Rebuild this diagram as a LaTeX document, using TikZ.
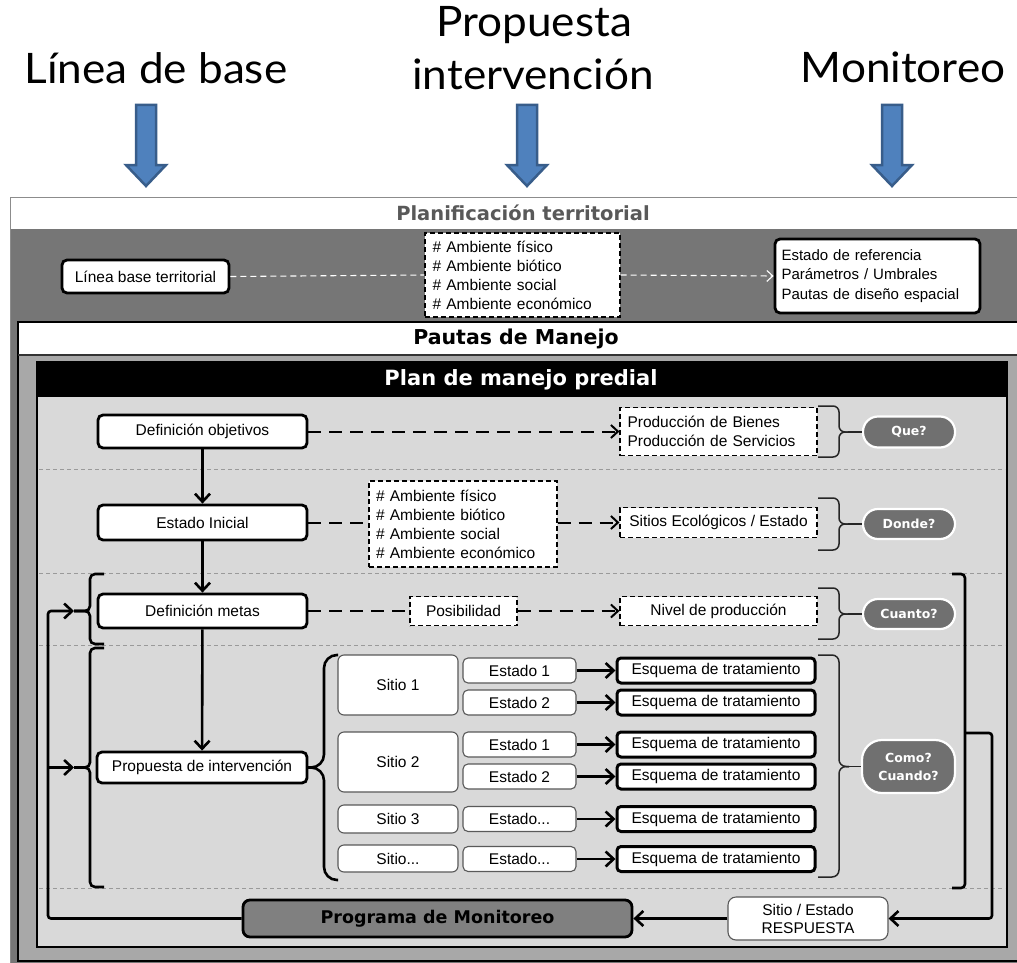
\documentclass[tikz,border=0pt]{standalone}
\usepackage{fontspec}
\setmainfont{Liberation Sans}
\newfontfamily\hdf{DejaVu Sans}
\newfontfamily\ttlf{Lato}
\usetikzlibrary{arrows.meta}
\definecolor{dkg}{HTML}{767676}
\definecolor{mdg}{HTML}{A8A8A8}
\definecolor{ltg}{HTML}{D9D9D9}
\definecolor{pillc}{HTML}{707070}
\definecolor{progc}{HTML}{808080}
\definecolor{blu}{HTML}{4F81BD}
\definecolor{blud}{HTML}{385D8A}
\definecolor{sepc}{HTML}{9A9A9A}
\tikzset{
  txt/.style={font=\fontsize{15.5}{19}\selectfont},
  box/.style={draw=black, line width=2.8pt, rounded corners=5pt, fill=white, inner sep=0pt, txt, align=center},
  qbox/.style={box, line width=3pt, rounded corners=4pt},
  dbox/.style={draw=black, line width=1.2pt, dash pattern=on 5pt off 3pt, fill=white, inner sep=0pt, txt},
  gbox/.style={draw=black!65, line width=1.1pt, rounded corners=6pt, fill=white, inner sep=0pt, txt, align=center},
  pillst/.style={fill=pillc, draw=white, line width=2.2pt, rounded corners=15pt, text=white, inner sep=0pt, align=center, font=\hdf\bfseries\fontsize{12.5}{18}\selectfont},
  arr/.style={line width=2.6pt, -{Straight Barb[length=8pt,width=15pt]}},
  dsh/.style={line width=2pt, dash pattern=on 13pt off 8pt},
  dsharr/.style={dsh, -{Straight Barb[length=7pt,width=13pt]}},
  wdsh/.style={draw=white, line width=1.1pt, dash pattern=on 6pt off 4pt},
  brc/.style={line width=1.5pt, draw=black!85},
  bbrc/.style={line width=2.6pt, draw=black},
  sep/.style={draw=sepc, line width=0.8pt, dash pattern=on 4pt off 3pt},
  bigttl/.style={font=\ttlf\fontsize{42}{42}\selectfont, anchor=base, inner sep=0pt, xscale=1.05},
  bluarr/.style={fill=blu, draw=blud, line width=2.5pt}
}
\begin{document}
\begin{tikzpicture}[x=1pt,y=-1pt]
\useasboundingbox (0,0) rectangle (1017,963);
\fill[white] (0,0) rectangle (1017,963);

% top titles
\node[bigttl] (t1) at (156,84) {Línea de base};
\node[bigttl] (t2a) at (534,37) {Propuesta};
\node[bigttl] (t2b) at (533,90) {intervención};
\node[bigttl] (t3) at (903,83) {Monitoreo};

% blue arrows
\foreach \cx in {146,527,892}{
  \draw[bluarr] (\cx-10,105) -- (\cx+10,105) -- (\cx+10,165) -- (\cx+20,165) -- (\cx,186) -- (\cx-20,165) -- (\cx-10,165) -- cycle;
}

% Planificacion territorial region
\fill[dkg] (10,197) rectangle (1030,963);
\fill[white] (10,198) rectangle (1030,229);
\draw[black!45, line width=1pt] (1030,197.5) -- (10,197.5) -- (10,963);
\node[font=\hdf\bfseries\fontsize{19.5}{20}\selectfont, text=black!65] (plt) at (523,213) {Planificación territorial};

% Pautas de Manejo box
\fill[mdg] (18,322) rectangle (1030,961);
\fill[white] (18,322) rectangle (1030,355);
\draw[black, line width=2.6pt] (1030,322) -- (18,322) -- (18,961) -- (1030,961);
\draw[black!80, line width=1.5pt] (18,355) -- (1030,355);
\node[font=\hdf\bfseries\fontsize{20.5}{21}\selectfont] (pdm) at (516,339) {Pautas de Manejo};

% Plan de manejo predial box
\fill[ltg] (37,362) rectangle (1007,947);
\fill[black] (37,362) rectangle (1007,397);
\draw[black, line width=2.6pt] (37,362) rectangle (1007,947);
\node[font=\hdf\bfseries\fontsize{21}{21}\selectfont, text=white] (pmp) at (521,380) {Plan de manejo predial};

% separators
\foreach \yy in {469,573,645,888}{
  \draw[sep] (39,\yy) -- (1005,\yy);
}

% planificacion nodes
\node[box, minimum width=167, minimum height=33] (linea) at (145.5,276.5) {Línea base territorial};
\node[dbox, minimum width=195, minimum height=84, text width=180, align=left] (amb1) at (522.5,275) {\# Ambiente físico\\\# Ambiente biótico\\\# Ambiente social\\\# Ambiente económico};
\node[box, minimum width=205, minimum height=74, text width=192, align=left, font=\fontsize{15}{19.5}\selectfont] (estref) at (877.5,276) {Estado de referencia\\Parámetros / Umbrales\\Pautas de diseño espacial};
\draw[wdsh] (linea.east) -- (amb1.west);
\draw[wdsh, -{Straight Barb[length=6pt,width=11pt]}] (amb1.east) -- (estref.west);

% row 1
\node[box, minimum width=209, minimum height=33] (defobj) at (202.5,431.5) {Definición objetivos};
\node[dbox, minimum width=197, minimum height=48, text width=182, align=left] (prod) at (718.5,431.5) {Producción de Bienes\\Producción de Servicios};
\node[pillst, minimum width=92, minimum height=31] (que) at (909,432) {Que?};
\draw[dsharr] (defobj.east) -- (prod.west);
\draw[brc, rounded corners=6pt] (818,406) -- (839,406) -- (839,432) -- (849,432);
\draw[brc, rounded corners=6pt] (818,457) -- (839,457) -- (839,432) -- (849,432);
\draw[brc] (848,432) -- (que.west);

% row 2
\node[box, minimum width=209, minimum height=35] (estini) at (202.5,522.5) {Estado Inicial};
\node[dbox, minimum width=188, minimum height=86, text width=174, align=left] (amb2) at (463,524) {\# Ambiente físico\\\# Ambiente biótico\\\# Ambiente social\\\# Ambiente económico};
\node[dbox, minimum width=197, minimum height=30] (sitios) at (718.5,522.5) {Sitios Ecológicos / Estado};
\node[pillst, minimum width=92, minimum height=30] (donde) at (909,524) {Donde?};
\draw[dsh] (estini.east) -- (amb2.west |- estini.east);
\draw[dsharr] (amb2.east |- sitios.west) -- (sitios.west);
\draw[brc, rounded corners=6pt] (818,498) -- (839,498) -- (839,524) -- (849,524);
\draw[brc, rounded corners=6pt] (818,550) -- (839,550) -- (839,524) -- (849,524);
\draw[brc] (848,524) -- (donde.west);

% row 3
\node[box, minimum width=209, minimum height=34] (defmet) at (202.5,611) {Definición metas};
\node[dbox, minimum width=107, minimum height=29] (posib) at (463.5,611) {Posibilidad};
\node[dbox, minimum width=197, minimum height=29] (nivel) at (718.5,611) {Nivel de producción};
\node[pillst, minimum width=92, minimum height=30] (cuanto) at (909,614) {Cuanto?};
\draw[dsh] (defmet.east) -- (posib.west);
\draw[dsharr] (posib.east) -- (nivel.west);
\draw[brc, rounded corners=6pt] (818,588) -- (839,588) -- (839,614) -- (849,614);
\draw[brc, rounded corners=6pt] (818,639) -- (839,639) -- (839,614) -- (849,614);
\draw[brc] (848,614) -- (cuanto.west);

% row 4
\node[box, minimum width=210, minimum height=31] (prop) at (202,767.5) {Propuesta de intervención};

% sites
\node[gbox, minimum width=120, minimum height=60] (s1) at (398,685) {Sitio 1};
\node[gbox, minimum width=120, minimum height=60] (s2) at (398,762) {Sitio 2};
\node[gbox, minimum width=120, minimum height=28] (s3) at (398,819) {Sitio 3};
\node[gbox, minimum width=120, minimum height=27] (s4) at (398,858.5) {Sitio...};
\node[gbox, rounded corners=5pt, minimum width=113, minimum height=25] (e11) at (519.5,670.5) {Estado 1};
\node[gbox, rounded corners=5pt, minimum width=113, minimum height=25] (e12) at (519.5,702.5) {Estado 2};
\node[gbox, rounded corners=5pt, minimum width=113, minimum height=25] (e21) at (519.5,744.5) {Estado 1};
\node[gbox, rounded corners=5pt, minimum width=113, minimum height=25] (e22) at (519.5,776.5) {Estado 2};
\node[gbox, rounded corners=5pt, minimum width=113, minimum height=25] (e3) at (519.5,819) {Estado...};
\node[gbox, rounded corners=5pt, minimum width=113, minimum height=25] (e4) at (519.5,859) {Estado...};
\foreach \n/\yy in {q11/670.5,q12/702.5,q21/744.5,q22/776.5,q3/819,q4/859}{
  \node[qbox, minimum width=198, minimum height=25] (\n) at (716,\yy) {Esquema de tratamiento};
}
\draw[arr] (e11) -- (q11);
\draw[arr] (e12) -- (q12);
\draw[arr] (e21) -- (q21);
\draw[arr] (e22) -- (q22);
\draw[arr] (e3) -- (q3);
\draw[arr] (e4) -- (q4);

\node[pillst, rounded corners=20pt, minimum width=93, minimum height=53] (como) at (908.5,766.5) {Como?\\Cuando?};
\draw[brc, rounded corners=7pt] (818,655) -- (839,655) -- (839,766.5) -- (849,766.5);
\draw[brc, rounded corners=7pt] (818,877) -- (839,877) -- (839,766.5) -- (849,766.5);
\draw[brc] (848,766.5) -- (como.west);

% sites brace
\draw[bbrc, rounded corners=13pt] (338,655) -- (324,655) -- (324,767.5) -- (308,767.5);
\draw[bbrc, rounded corners=13pt] (338,880) -- (324,880) -- (324,767.5) -- (308,767.5);

% vertical flow
\draw[arr] (defobj) -- (estini);
\draw[arr] (estini) -- (defmet);
\draw[arr] (defmet) -- (prop);

% left braces
\draw[bbrc, rounded corners=5pt] (104,574) -- (90,574) -- (90,611) -- (74,611);
\draw[bbrc, rounded corners=5pt] (104,644) -- (90,644) -- (90,611) -- (74,611);
\draw[bbrc, rounded corners=5pt] (104,648) -- (90,648) -- (90,767.5) -- (74,767.5);
\draw[bbrc, rounded corners=5pt] (104,887) -- (90,887) -- (90,767.5) -- (74,767.5);

% right bracket
\draw[bbrc, rounded corners=4pt] (952,574) -- (965,574) -- (965,888) -- (952,888);

% monitoring
\node[draw=black, line width=2.8pt, rounded corners=7pt, fill=progc, minimum width=389, minimum height=37, inner sep=0pt, font=\hdf\bfseries\fontsize{17.5}{18}\selectfont] (prog) at (437.5,918.5) {Programa de Monitoreo};
\node[gbox, rounded corners=8pt, minimum width=160, minimum height=43, font=\fontsize{15.5}{18}\selectfont] (resp) at (808,918.5) {Sitio / Estado\\RESPUESTA};
\draw[arr, rounded corners=3pt] (965,733) -- (992,733) |- (resp.east);
\draw[arr] (resp) -- (prog);
\draw[arr, rounded corners=3pt] (prog.west) -| (48,611) -- (74,611);
\draw[arr] (48,767.5) -- (74,767.5);
\end{tikzpicture}
\end{document}
